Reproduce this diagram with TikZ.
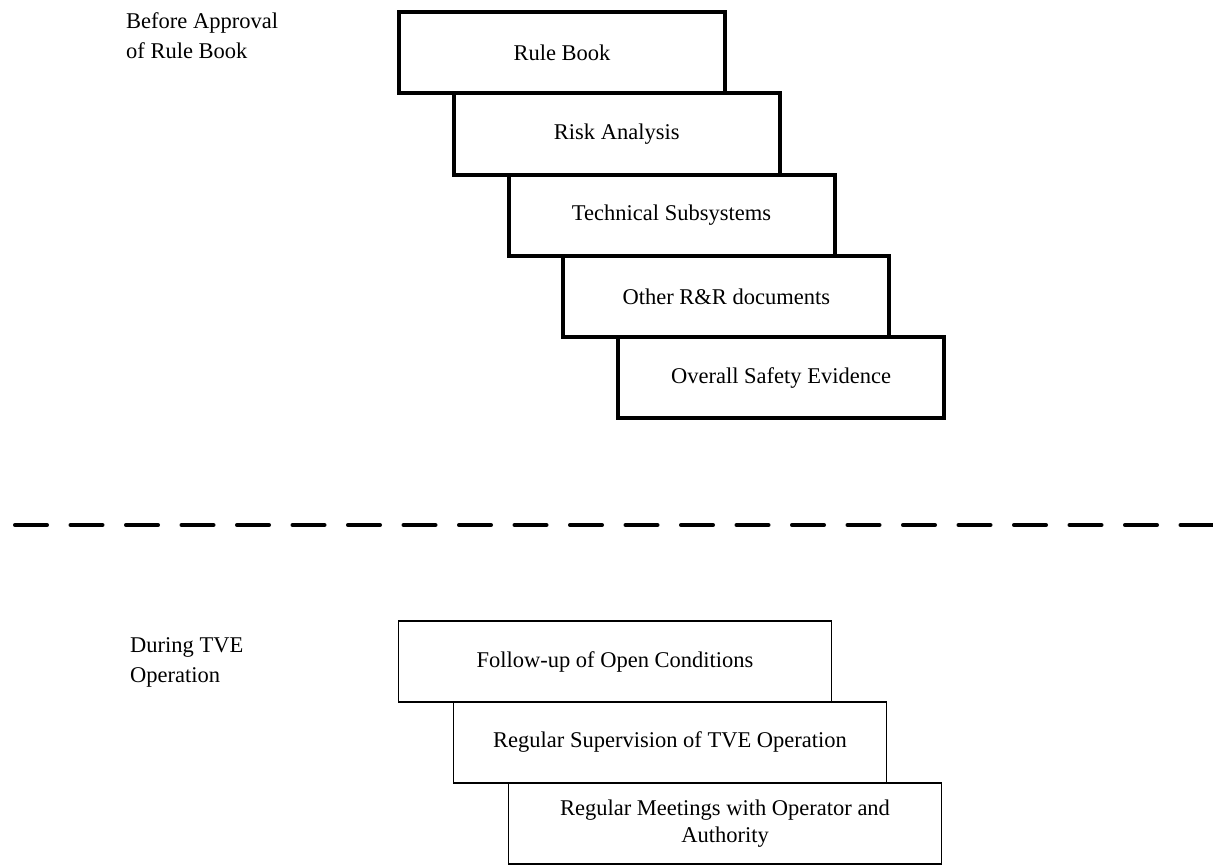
\documentclass[tikz,border=0pt]{standalone}
\usepackage{fontspec}
\setmainfont{Liberation Serif}
\begin{document}
\begin{tikzpicture}[x=1pt,y=-1pt,
  every node/.style={font=\fontsize{22.5}{30}\selectfont, inner sep=0pt},
  approval/.style={draw, line width=4pt, minimum width=326pt, minimum height=81.3pt},
  operation/.style={draw, line width=1.2pt, minimum width=433pt, minimum height=81pt, align=center},
  phaselabel/.style={anchor=base west, align=left},
  divider/.style={line width=3.5pt, line cap=round, dash pattern=on 32.5pt off 23pt}]
\useasboundingbox (0,0) rectangle (1213,866);

% phase before approval of the rule book (anchored at the last line's baseline)
\node[phaselabel] (lblbefore) at (126,59) {Before Approval\\of Rule Book};
\node[approval] (rulebook) at (562,52.65)    {Rule Book};
\node[approval] (risk)     at (616.75,133.95) {Risk Analysis};
\node[approval] (techsub)  at (671.5,215.25)  {Technical Subsystems};
\node[approval] (otherrr)  at (726.25,296.55) {Other R\&R documents};
\node[approval] (overall)  at (781,377.85)    {Overall Safety Evidence};

% separation between the two phases
\coordinate (divl) at (14.75,525);
\coordinate (divr) at (1213,525);
\draw[divider] (divl) -- (divr);

% phase during operation
\node[phaselabel] (lblduring) at (130,682) {During TVE\\Operation};
\node[operation] (followup)    at (615,661.5) {Follow-up of Open Conditions};
\node[operation] (supervision) at (670,742.5) {Regular Supervision of TVE Operation};
\node[operation, font=\fontsize{22.5}{27}\selectfont] (meetings) at (725,823.5)
  {Regular Meetings with Operator and\\Authority};
\end{tikzpicture}
\end{document}
